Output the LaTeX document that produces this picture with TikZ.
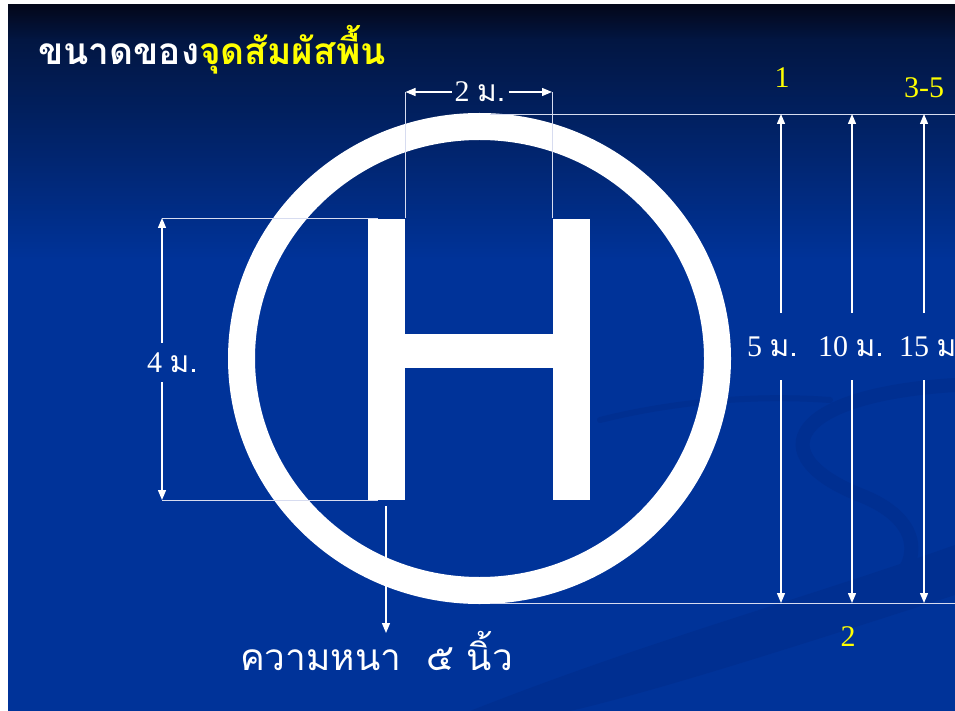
\documentclass[tikz,border=0pt]{standalone}
\usepackage{fontspec}
\setmainfont{Liberation Serif}
\newfontfamily\thai[Script=Thai]{Loma}
\usetikzlibrary{arrows.meta,positioning}
\definecolor{slideblue}{RGB}{0,51,153}
\definecolor{slidetop}{RGB}{3,7,26}
\definecolor{slidemid}{RGB}{2,22,66}
\definecolor{swirlblue}{RGB}{0,47,145}
\definecolor{dimline}{RGB}{215,220,240}
\definecolor{labelyellow}{RGB}{255,255,0}
\begin{document}
\begin{tikzpicture}[x=1pt,y=-1pt,
    dim/.style={draw=dimline, line width=0.8pt},
    arr/.style={draw=white, line width=1.3pt, -{Triangle[length=10pt,width=8pt]}},
    size/.style={text=white, font=\fontsize{30}{32}\selectfont, inner sep=0pt},
    num/.style={text=labelyellow, font=\fontsize{30}{32}\selectfont, inner sep=0pt},
    swirl/.style={draw=swirlblue, line width=14pt, line cap=round}
  ]
  \useasboundingbox (0,0) rectangle (955,711);
  \fill[white] (0,0) rectangle (955,711);
  % slide background
  \fill[slideblue] (8,5) rectangle (955,711);
  \shade[top color=slidetop, bottom color=slidemid] (8,5) rectangle (955,40);
  \shade[top color=slidemid, bottom color=slideblue] (8,40) rectangle (955,260);
  \fill[swirlblue] (470,711) .. controls (650,640) and (800,600) .. (955,545)
    -- (955,595) .. controls (800,645) and (660,690) .. (570,711) -- cycle;
  \draw[swirl] (955,385) .. controls (790,395) and (760,455) .. (860,495)
    .. controls (950,530) and (910,600) .. (830,615);
  \draw[swirl, line width=6pt] (600,420) .. controls (680,400) and (760,395) .. (830,400);

  \node[anchor=base west, inner sep=0pt, font=\thai\bfseries\fontsize{37}{40}\selectfont] (title) at (38,65)
    {\textcolor{white}{ขนาดของ}\textcolor{labelyellow}{จุดสัมผัสพื้น}};

  % pad
  \draw[white, line width=27pt] (479.5,358.5) ellipse [x radius=238, y radius=232];
  \fill[white] (368,219) rectangle (405,500);
  \fill[white] (553,219) rectangle (590,500);
  \fill[white] (405,334) rectangle (553,368);

  % 2 m
  \coordinate (wl) at (405.5,92);
  \coordinate (wr) at (552,92);
  \coordinate (wlb) at (405.5,218);
  \coordinate (wrb) at (552,218);
  \draw[dim] (wlb) -- (wl);
  \draw[dim] (wrb) -- (wr);
  \node[size, inner xsep=3pt] (wlab) at (480,92) {2 {\thai ม.}};
  \draw[arr] (wlab) -- (wl);
  \draw[arr] (wlab) -- (wr);

  % 4 m
  \coordinate (ht) at (162,218);
  \coordinate (hb) at (162,500);
  \coordinate (hte) at (378,218);
  \coordinate (hbe) at (378,500);
  \draw[dim] (ht) -- (hte);
  \draw[dim] (hb) -- (hbe);
  \node[size, minimum height=39pt, anchor=west] (hlab) at (147,362.5) {4 {\thai ม.}};
  \draw[arr] (hlab.north -| ht) -- (ht);
  \draw[arr] (hlab.south -| hb) -- (hb);

  % 5 / 10 / 15 m
  \coordinate (topl) at (490,114);
  \coordinate (topr) at (955,114);
  \coordinate (botl) at (490,603);
  \coordinate (botr) at (955,603);
  \draw[dim] (topl) -- (topr);
  \draw[dim] (botl) -- (botr);
  \node[size, minimum height=67pt, anchor=west] (m5) at (747,346.5) {5 {\thai ม.}};
  \node[size, minimum height=67pt, anchor=west] (m10) at (818,346.5) {10 {\thai ม.}};
  \node[size, minimum height=67pt, anchor=west] (m15) at (899,346.5) {15 {\thai ม}};
  \foreach \x/\l in {781/m5, 852/m10, 924/m15} {
    \coordinate (\l t) at (\x,114);
    \coordinate (\l b) at (\x,603);
    \draw[arr] (\l.north -| \l t) -- (\l t);
    \draw[arr] (\l.south -| \l b) -- (\l b);
  }
  \node[num] (n1) at (782,78) {1};
  \node[num] (n35) at (924,88) {3-5};
  \node[num] (n2) at (848,637) {2};

  % thickness
  \coordinate (tk) at (386,506);
  \coordinate (tke) at (386,633);
  \draw[arr] (tk) -- (tke);
  \node[anchor=base west, inner sep=0pt, text=white, font=\thai\fontsize{37}{40}\selectfont] (thick) at (240,670)
    {ความหนา\ \ ๕ นิ้ว};
\end{tikzpicture}
\end{document}
